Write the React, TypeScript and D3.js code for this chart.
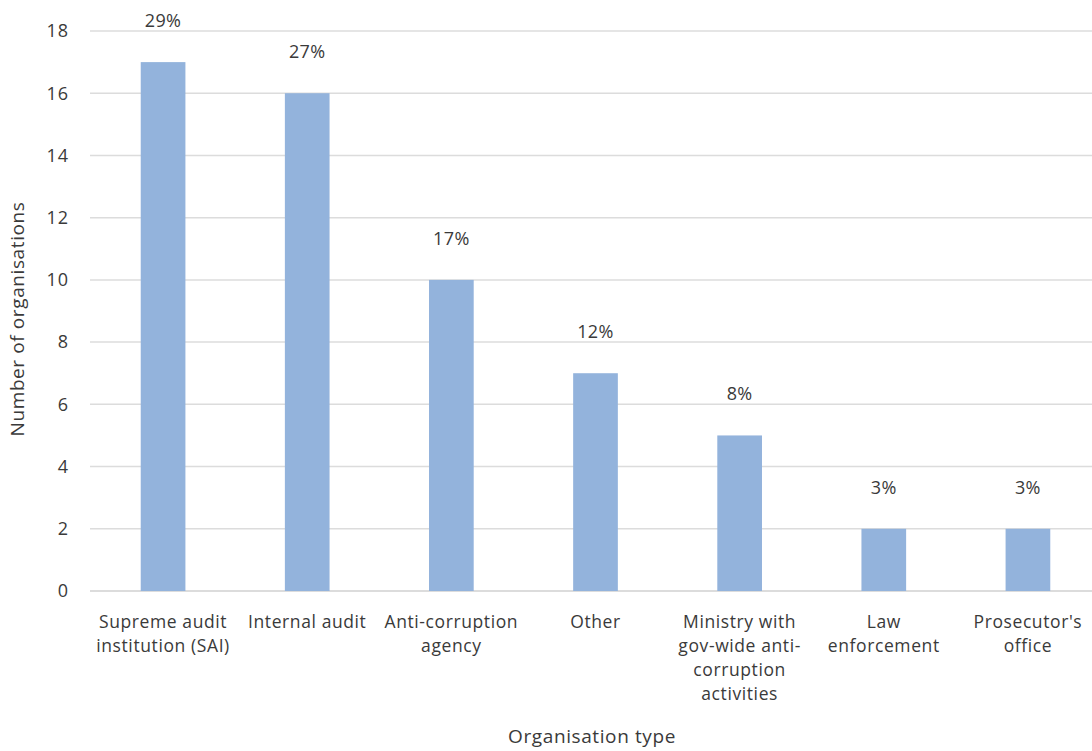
import React from "react";
import * as d3 from "d3";

const categories: string[][] = [
  ["Supreme audit", "institution (SAI)"],
  ["Internal audit"],
  ["Anti-corruption", "agency"],
  ["Other"],
  ["Ministry with", "gov-wide anti-", "corruption", "activities"],
  ["Law", "enforcement"],
  ["Prosecutor's", "office"],
];
const counts: number[] = [17, 16, 10, 7, 5, 2, 2];
const shares: string[] = ["29%", "27%", "17%", "12%", "8%", "3%", "3%"];
const yTicks: number[] = [0, 2, 4, 6, 8, 10, 12, 14, 16, 18];

const W = 1092;
const H = 751;
const FONT = "'Open Sans', 'Noto Sans', sans-serif";
const TEXT = "#3a3a3a";

export default function App() {
  const x = d3
    .scaleBand<number>()
    .domain(d3.range(categories.length))
    .range([91, 1100])
    .padding(0);
  const y = d3.scaleLinear().domain([0, 18]).range([591, 31]);
  const barW = x.bandwidth() * 0.31;

  return (
    <svg
      width={W}
      height={H}
      style={{ position: "absolute", left: 0, top: 0, background: "#fff" }}
      fontFamily={FONT}
    >
      {yTicks.map((t) => (
        <g key={t}>
          <line
            x1={90}
            x2={W}
            y1={y(t)}
            y2={y(t)}
            stroke={t === 0 ? "#d0d0d0" : "#dcdcdc"}
            strokeWidth={1.5}
          />
          <text
            x={69}
            y={y(t)}
            dy="0.35em"
            textAnchor="end"
            fontSize={18}
            letterSpacing={1}
            fill={TEXT}
          >
            {t}
          </text>
        </g>
      ))}
      {counts.map((v, i) => {
        const cx = (x(i) as number) + x.bandwidth() / 2;
        return (
          <g key={i}>
            <rect
              x={cx - barW / 2}
              y={y(v)}
              width={barW}
              height={y(0) - y(v)}
              fill="#93b3dc"
            />
            <text
              x={cx}
              y={y(v) - 35}
              textAnchor="middle"
              fontSize={18}
              letterSpacing={0.4}
              fill={TEXT}
            >
              {shares[i]}
            </text>
            {categories[i].map((line, j) => (
              <text
                key={j}
                x={cx}
                y={628 + j * 24}
                textAnchor="middle"
                fontSize={17.5}
                letterSpacing={0.6}
                fill={TEXT}
              >
                {line}
              </text>
            ))}
          </g>
        );
      })}
      <text
        x={592}
        y={743}
        textAnchor="middle"
        fontSize={19}
        letterSpacing={0.6}
        fill={TEXT}
      >
        Organisation type
      </text>
      <text
        transform={`translate(24, ${y(9) + 8}) rotate(-90)`}
        textAnchor="middle"
        fontSize={19}
        letterSpacing={0.6}
        fill={TEXT}
      >
        Number of organisations
      </text>
    </svg>
  );
}
